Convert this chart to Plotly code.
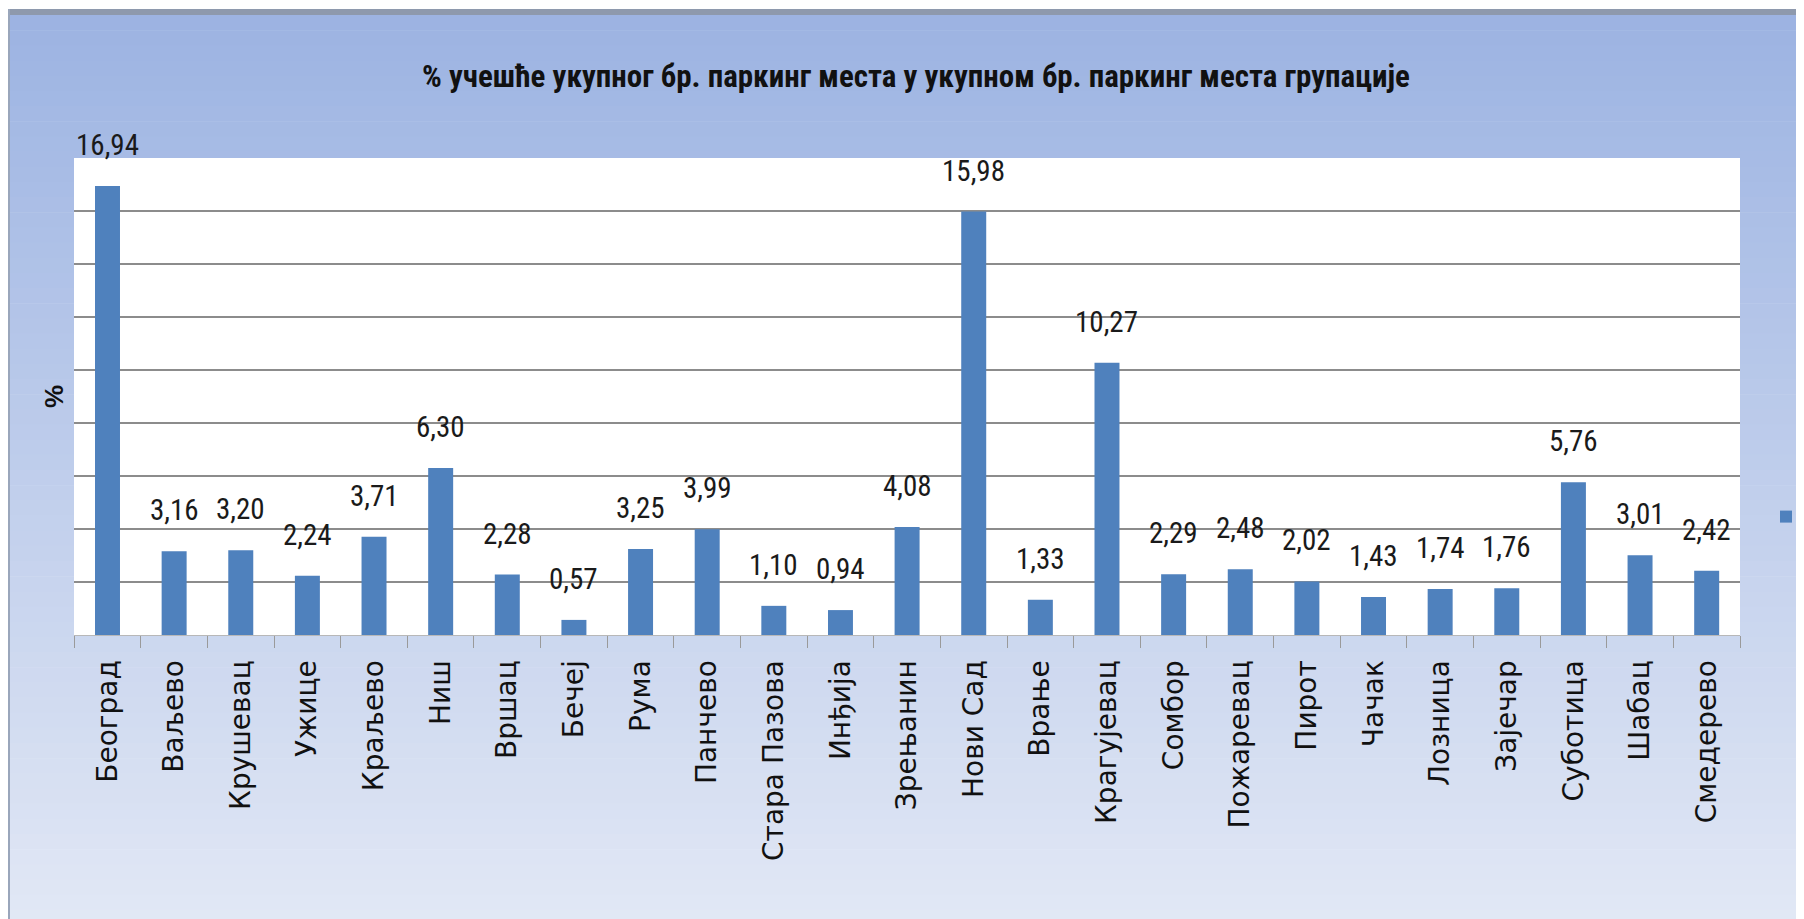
import plotly.graph_objects as go

# ---------------- data ----------------
cities = ["Београд", "Ваљево", "Крушевац", "Ужице", "Краљево", "Ниш", "Вршац", "Бечеј",
          "Рума", "Панчево", "Стара Пазова", "Инђија", "Зрењанин", "Нови Сад", "Врање",
          "Крагујевац", "Сомбор", "Пожаревац", "Пирот", "Чачак", "Лозница", "Зајечар",
          "Суботица", "Шабац", "Смедерево"]
shares = [16.94, 3.16, 3.20, 2.24, 3.71, 6.30, 2.28, 0.57,
          3.25, 3.99, 1.10, 0.94, 4.08, 15.98, 1.33,
          10.27, 2.29, 2.48, 2.02, 1.43, 1.74, 1.76,
          5.76, 3.01, 2.42]
title_text = "% учешће укупног бр. паркинг места у укупном бр. паркинг места групације"
y_title = "%"
y_range = [0, 18]
y_step = 2

# ---------------- layout geometry (page pixels; body has an 8px margin) ----------------
OFF = 8
W, H = 1804 - OFF, 919 - OFF
L, R, T, B = 74 - OFF, 1740 - OFF, 158 - OFF, 635 - OFF  # plot area edges in figure px


def px_x(p):  # page px -> paper
    return (p - OFF - L) / (R - L)


def px_y(p):
    return (B - (p - OFF)) / (B - T)


NARROW = "Roboto Condensed, DejaVu Sans Condensed, Liberation Sans Narrow, Liberation Sans, sans-serif"

fig = go.Figure()
fig.add_trace(go.Bar(
    x=cities, y=shares, name=" ",
    marker=dict(color="#4f81bd", line=dict(width=0)),
    showlegend=True,
))

labels = [f"{v:.2f}".replace(".", ",") for v in shares]
annotations = []
for c, v, t in zip(cities, shares, labels):
    annotations.append(dict(
        x=c, y=v, xref="x", yref="y", text=t, showarrow=False,
        yanchor="bottom", xanchor="center", yshift=22,
        font=dict(family=NARROW, size=29, color="#1a1a1a"),
    ))

shapes = []
top_c = (156, 179, 226)
bot_c = (226, 232, 245)
y0p, y1p = 15, 925
n = 60
for i in range(n):
    a = y0p + (y1p - y0p) * i / n
    b = y0p + (y1p - y0p) * (i + 1) / n
    f = (i + 0.5) / n
    col = tuple(int(round(top_c[k] + (bot_c[k] - top_c[k]) * f)) for k in range(3))
    shapes.append(dict(type="rect", xref="paper", yref="paper",
                       x0=px_x(9), x1=px_x(1810), y0=px_y(b + 0.6), y1=px_y(a),
                       fillcolor=f"rgb{col}", line=dict(width=0), layer="below"))
shapes.append(dict(type="rect", xref="paper", yref="paper",
                   x0=px_x(8), x1=px_x(1810), y0=px_y(15), y1=px_y(9),
                   fillcolor="#8e99ad", line=dict(width=0), layer="below"))
shapes.append(dict(type="rect", xref="paper", yref="paper",
                   x0=px_x(8), x1=px_x(10), y0=px_y(925), y1=px_y(9),
                   fillcolor="#9aa6bb", line=dict(width=0), layer="below"))
shapes.append(dict(type="rect", xref="paper", yref="paper",
                   x0=0, x1=1, y0=0, y1=1,
                   fillcolor="white", line=dict(width=0), layer="below"))

fig.update_layout(
    width=W, height=H,
    margin=dict(l=L, r=W - R, t=T, b=H - B, pad=0, autoexpand=False),
    paper_bgcolor="white",
    plot_bgcolor="white",
    template="none",
    title=dict(text=title_text, x=(916 - OFF) / W, xref="container", xanchor="center",
               y=1 - (76 - OFF) / H, yref="container", yanchor="middle",
               font=dict(family=NARROW, size=31, color="#111111", weight="bold")),
    bargap=0.625,
    showlegend=True,
    legend=dict(x=px_x(1766), y=px_y(517), xanchor="left", yanchor="middle",
                bgcolor="rgba(0,0,0,0)", borderwidth=0,
                font=dict(size=14, color="#333")),
    xaxis=dict(
        automargin=False,
        tickangle=-90,
        tickfont=dict(family="DejaVu Sans, sans-serif", size=28, color="#111111"),
        ticks="outside", tickson="boundaries", ticklen=12, tickwidth=1, tickcolor="#9a9a9a",
        ticklabelstandoff=13,
        showline=True, linecolor="#b8b8b8", linewidth=1,
        showgrid=False, zeroline=False,
    ),
    yaxis=dict(
        automargin=False,
        range=y_range, dtick=y_step, tick0=0,
        showticklabels=False, ticks="",
        showgrid=True, gridcolor="#8c8c8c", gridwidth=2,
        zeroline=False, showline=False,
        title=dict(text=y_title, standoff=1,
                   font=dict(family="Liberation Sans, Arial, sans-serif", size=26,
                             color="#111111", weight="bold")),
    ),
    annotations=annotations,
    shapes=shapes,
)

fig.write_html("out.html")
